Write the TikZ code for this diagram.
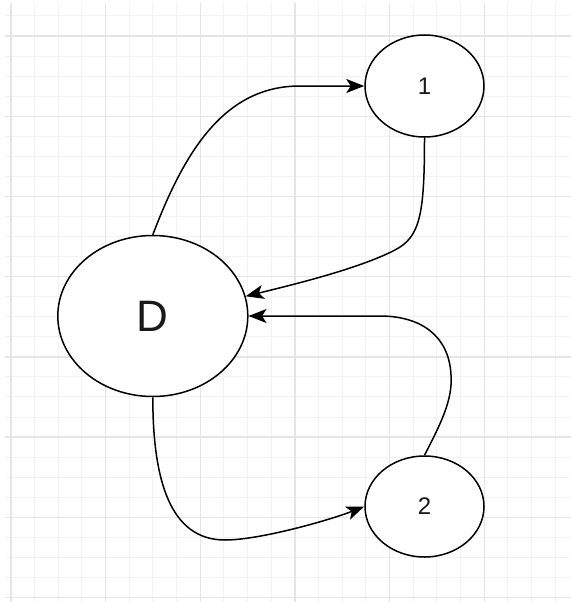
\documentclass[tikz,border=0pt]{standalone}
\usepackage{fontspec}
\setmainfont{Liberation Sans}
\usetikzlibrary{positioning,shapes.geometric,arrows.meta}

\begin{document}
\begin{tikzpicture}[x=1pt, y=-1pt,
    main/.style = {draw, ellipse, fill=white, line width=1.5pt, inner sep=0pt, text=black!90},
    conn/.style = {line width=1.5pt, -{Stealth[length=18pt, width=14pt, inset=4.5pt]}},
    minorgrid/.style = {draw=black!5, line width=1pt},
    majorgrid/.style = {draw=black!10, line width=1.4pt}]
\useasboundingbox (0,0) rectangle (571,602);
% background grid
\foreach \k in {0,...,23} \draw[minorgrid] ({10.9+23.67*\k},3) -- ({10.9+23.67*\k},602);
\foreach \k in {0,...,29} \draw[minorgrid] (5,{16+20.05*\k}) -- (571,{16+20.05*\k});
\foreach \k in {0,4,...,20} \draw[majorgrid] ({10.9+23.67*\k},3) -- ({10.9+23.67*\k},602);
\foreach \k in {1,5,...,29} \draw[majorgrid] (5,{16+20.05*\k}) -- (571,{16+20.05*\k});
% nodes
\node[main, minimum width=190pt, minimum height=161pt, font=\fontsize{44}{44}\selectfont] (D) at (152.8,316) {D};
\node[main, on grid, minimum width=119pt, minimum height=102pt, font=\fontsize{24}{24}\selectfont] (1) [above right=230pt and 271.7pt of D] {1};
\node[main, on grid, minimum width=119pt, minimum height=101pt, font=\fontsize{24}{24}\selectfont] (2) [below right=190.5pt and 271.7pt of D] {2};
% connectors
\draw[conn] (D.north) .. controls (185,150) and (225,86) .. (300,86) -- (1.west);
\draw[conn] (1.south) .. controls (424.5,215) and (420,237) .. (395,250) .. controls (360,268) and (300,283) .. (D.12);
\draw[conn] (2.north) .. controls (440,425) and (453,400) .. (451,375) .. controls (449,335) and (420,316) .. (380,316) -- (D.east);
\draw[conn] (D.south) .. controls (152.8,480) and (170,540) .. (225,540) .. controls (260,540) and (330,520) .. (2.west);
\end{tikzpicture}
\end{document}
